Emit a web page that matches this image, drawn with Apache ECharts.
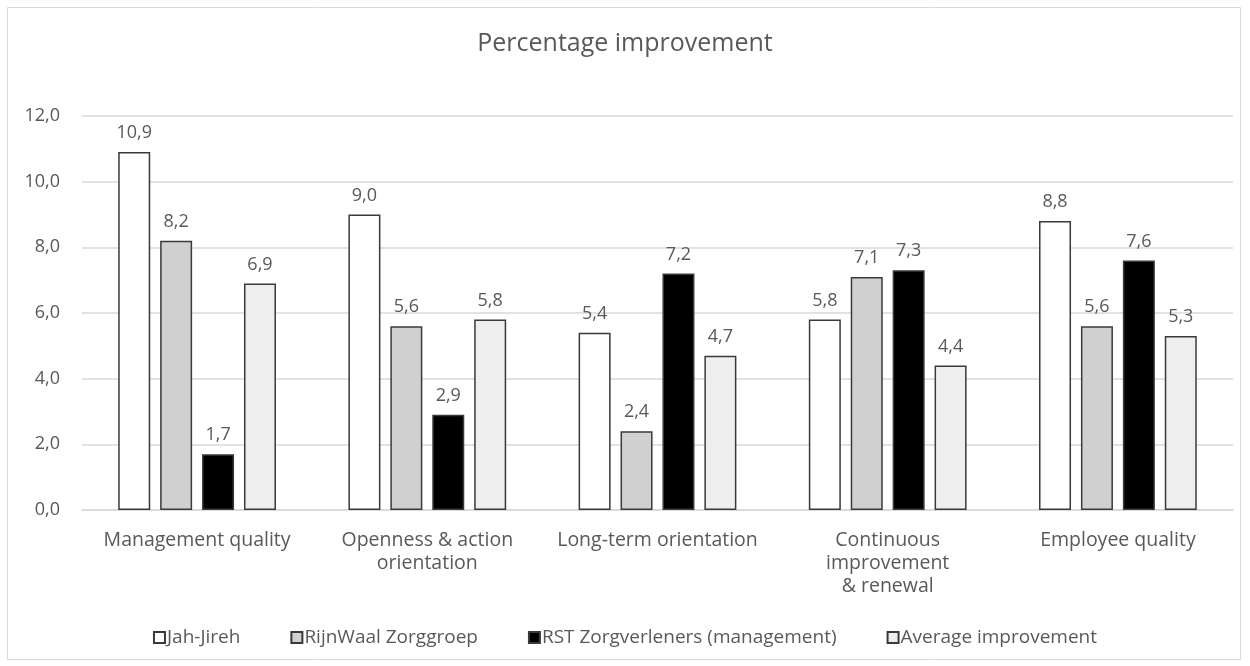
<!DOCTYPE html>
<html>
<head>
<meta charset="utf-8">
<script src="https://cdn.jsdelivr.net/npm/echarts@6/dist/echarts.min.js"></script>
<style>
  html, body { margin: 0; padding: 0; background: #ffffff; }
  #chart { width: 1250px; height: 666px; }
</style>
</head>
<body>
<div id="chart"></div>
<script>
// Dimensions of the organisational culture scan
const categories = [
  'Management quality',
  'Openness & action\norientation',
  'Long-term orientation',
  'Continuous\nimprovement\n& renewal',
  'Employee quality'
];

// Percentage improvement per organisation
const jahJireh = [10.9, 9.0, 5.4, 5.8, 8.8];
const rijnWaal = [8.2, 5.6, 2.4, 7.1, 5.6];
const rstZorg = [1.7, 2.9, 7.2, 7.3, 7.6];
const average = [6.9, 5.8, 4.7, 4.4, 5.3];

const seriesNames = [
  'Jah-Jireh',
  'RijnWaal Zorggroep',
  'RST Zorgverleners (management)',
  'Average improvement'
];

const fontFamily = '"Open Sans", "Noto Sans", sans-serif';
const textColor = '#595959';
const fmt = v => v.toFixed(1).replace('.', ',');

function barSeries(name, data, fill) {
  return {
    name: name,
    type: 'bar',
    data: data,
    barWidth: 32,
    barGap: '31%',
    itemStyle: { color: fill, borderColor: '#3a3a3a', borderWidth: 1.5 },
    label: {
      show: true,
      position: 'top',
      distance: 10,
      color: textColor,
      fontSize: 18,
      fontFamily: fontFamily,
      formatter: p => fmt(p.value)
    }
  };
}

const chart = echarts.init(document.getElementById('chart'), null, { renderer: 'canvas' });
chart.setOption({
  backgroundColor: '#ffffff',
  animation: false,
  title: {
    text: 'Percentage improvement',
    left: 'center',
    top: 26,
    textStyle: { color: textColor, fontSize: 25, fontWeight: 'normal', fontFamily: fontFamily }
  },
  graphic: [{
    type: 'rect',
    shape: { x: 7.5, y: 7.5, width: 1233, height: 652 },
    style: { fill: 'none', stroke: '#d9d9d9', lineWidth: 1 },
    silent: true,
    z: -1
  }],
  legend: {
    bottom: 14,
    left: 'center',
    itemWidth: 11,
    itemHeight: 11,
    itemGap: 50,
    icon: 'rect',
    textStyle: { color: textColor, fontSize: 19, fontFamily: fontFamily, padding: [0, 0, 0, -3] },
    data: seriesNames
  },
  grid: { left: 82, right: 17, top: 116, bottom: 156 },
  xAxis: {
    type: 'category',
    data: categories,
    axisTick: { show: false },
    axisLine: { lineStyle: { color: '#d9d9d9', width: 1.5 } },
    axisLabel: {
      color: textColor,
      fontSize: 19.5,
      fontFamily: fontFamily,
      margin: 19,
      lineHeight: 23,
      interval: 0
    }
  },
  yAxis: {
    type: 'value',
    min: 0,
    max: 12,
    interval: 2,
    axisLine: { show: false },
    axisTick: { show: false },
    splitLine: { lineStyle: { color: '#d9d9d9', width: 1.5 } },
    axisLabel: {
      color: textColor,
      fontSize: 18,
      fontFamily: fontFamily,
      margin: 22,
      formatter: v => fmt(v)
    }
  },
  series: [
    barSeries(seriesNames[0], jahJireh, '#ffffff'),
    barSeries(seriesNames[1], rijnWaal, '#d0d0d0'),
    barSeries(seriesNames[2], rstZorg, '#000000'),
    barSeries(seriesNames[3], average, '#eeeeee')
  ]
});
</script>
</body>
</html>
